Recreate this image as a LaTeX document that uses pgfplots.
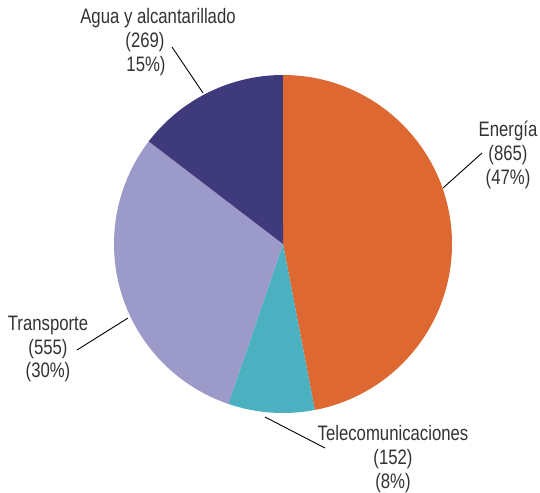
\documentclass[border=0pt]{standalone}
\usepackage{pgfplots}
\usepackage{pgfplotstable}
\pgfplotsset{compat=1.18}
\usepackage{fontspec}
\setmainfont{Liberation Sans}[FakeStretch=0.8]

\definecolor{cEner}{HTML}{DD6831}
\definecolor{cTele}{HTML}{4BB1C1}
\definecolor{cTrans}{HTML}{9C9AC8}
\definecolor{cAgua}{HTML}{3F3A7C}
\definecolor{txt}{HTML}{333333}

% sector value colour (clockwise from 12 o'clock)
\pgfplotstableread{
sector value color
Energia 865 cEner
Telecom 152 cTele
Transporte 555 cTrans
Agua 269 cAgua
}\piedata

\begin{document}
\begin{tikzpicture}
\begin{axis}[
	width=540bp,
	height=492bp,
	scale only axis,
	xmin=0, xmax=540,
	ymin=0, ymax=492,
	hide axis,
	clip=false,
	]
\path (axis cs:0,0) rectangle (axis cs:540,492);

\pgfplotstablegetrowsof{\piedata}
\pgfmathtruncatemacro\N{\pgfplotsretval-1}
\def\total{0}
\pgfplotsforeachungrouped \i in {0,...,\N}{%
	\pgfplotstablegetelem{\i}{value}\of{\piedata}%
	\pgfmathsetmacro\total{\total+\pgfplotsretval}%
}
\def\startang{90}
\pgfplotsforeachungrouped \i in {0,...,\N}{%
	\pgfplotstablegetelem{\i}{value}\of{\piedata}%
	\let\val\pgfplotsretval
	\pgfplotstablegetelem{\i}{color}\of{\piedata}%
	\let\col\pgfplotsretval
	\pgfmathsetmacro\frac{\val/\total}%
	\pgfmathsetmacro\endang{\startang-360*\frac}%
	\edef\temp{\noexpand\fill[\col] (axis cs:283,248) -- ++(\startang:169bp)
		arc[start angle=\startang, end angle=\endang, radius=169bp] -- cycle;}%
	\temp
	\let\startang\endang
}

\draw[line width=0.9bp, black] (axis cs:172,445) -- (axis cs:203,399);
\draw[line width=0.9bp, black] (axis cs:482,339) -- (axis cs:443,304);
\draw[line width=0.9bp, black] (axis cs:77,142) -- (axis cs:128,174);
\draw[line width=0.9bp, black] (axis cs:265,75) -- (axis cs:325,44);

\begin{scope}[every node/.style={font=\fontsize{21}{24}\selectfont, text=txt, align=center, inner sep=0pt}]
\node at (axis cs:158,474) {Agua y alcantarillado};
\node at (axis cs:145,450) {(269)};
\node at (axis cs:146,426) {15\%)};
\node at (axis cs:508,337) {Energía\\(865)\\(47\%)};
\node at (axis cs:48,143) {Transporte\\(555)\\(30\%)};
\node at (axis cs:393,33) {Telecomunicaciones\\(152)\\(8\%)};
\end{scope}
\end{axis}
\end{tikzpicture}
\end{document}
